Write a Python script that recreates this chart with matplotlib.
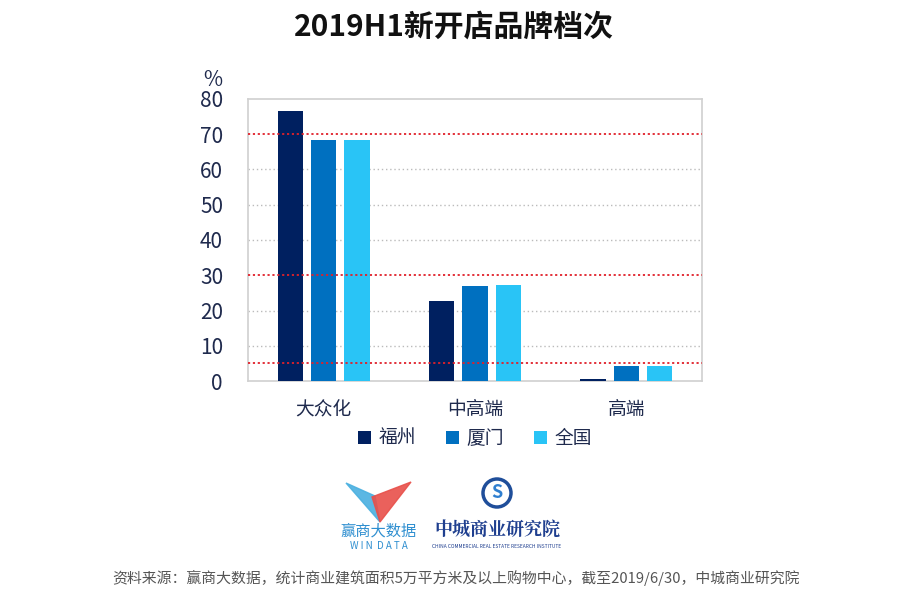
import matplotlib
matplotlib.use("Agg")
import matplotlib.pyplot as plt
import numpy as np
from matplotlib.patches import Polygon, Circle

plt.rcParams['font.family'] = ['Noto Sans CJK SC', 'DejaVu Sans']

categories = ['大众化', '中高端', '高端']
series_names = ['福州', '厦门', '全国']
fuzhou = [76.5, 22.6, 0.6]
xiamen = [68.5, 27.0, 4.3]
quanguo = [68.5, 27.3, 4.3]
yticks = [0, 10, 20, 30, 40, 50, 60, 70, 80]
red_lines = [70, 30, 5]

colors = ['#002060', '#0070C0', '#29C4F6']
text_col = '#1F2A4D'

fig = plt.figure(figsize=(9.08, 5.89), dpi=100)
ax = fig.add_axes([248/908, 1-381/589, 454/908, 282/589])

x = np.arange(len(categories))
w = 0.167
step = 0.22
for i, (vals, c, name) in enumerate(zip([fuzhou, xiamen, quanguo], colors, series_names)):
    ax.bar(x + (i-1)*step, vals, width=w, color=c, label=name, zorder=3)

ax.set_xlim(-0.5, 2.5)
ax.set_ylim(0, 80)
ax.set_yticks(yticks)
ax.set_yticklabels([str(v) for v in yticks], fontsize=15, color=text_col)
ax.set_xticks(x)
ax.set_xticklabels(categories, fontsize=13.5, color=text_col)
ax.tick_params(axis='both', length=0)
ax.tick_params(axis='y', pad=18)
ax.tick_params(axis='x', pad=13)

for v in [10, 20, 40, 50, 60]:
    ax.axhline(v, color='#BBBBBB', linestyle=(0, (1, 2)), linewidth=1, zorder=1)
for v in red_lines:
    ax.axhline(v, color='#E0202A', linestyle=(0, (1.2, 1.5)), linewidth=1.3, zorder=4)

for s in ax.spines.values():
    s.set_color('#D0D0D0')
    s.set_linewidth(1.2)

fig.text(213/908, 1-80/589, '%', fontsize=15, color=text_col, ha='center', va='center')

fig.text(454/908, 1-27/589, '2019H1新开店品牌档次', fontsize=21.5, fontweight='bold',
         color='#111111', ha='center', va='center')

leg = ax.legend(loc='upper center', bbox_to_anchor=(0.5, -0.14), ncol=3, frameon=False,
                fontsize=13.5, handlelength=0.7, handleheight=0.7, handletextpad=0.4,
                columnspacing=1.6, borderaxespad=0)
for t in leg.get_texts():
    t.set_color(text_col)

# logos (simplified)
la = fig.add_axes([0, 0, 1, 1], facecolor='none')
la.set_xlim(0, 908)
la.set_ylim(589, 0)
la.axis('off')
la.add_patch(Polygon([[346, 483], [375, 496], [380, 522]], closed=True, color='#4AB0E0', alpha=0.9))
la.add_patch(Polygon([[411, 482], [372, 497], [380, 522]], closed=True, color='#E8504A', alpha=0.9))
la.text(379, 531, '赢商大数据', fontsize=11, color='#2F8FD0', ha='center', va='center')
la.text(379, 546, 'W I N  D A T A', fontsize=7, color='#2F8FD0', ha='center', va='center')
la.add_patch(Circle((497, 493), 14, fill=False, edgecolor='#1F4E9A', linewidth=2.5))
la.text(497, 493, 'S', fontsize=13, color='#2F7FD0', ha='center', va='center', fontweight='bold')
la.text(497, 530, '中城商业研究院', fontsize=13, color='#1F3F8F', ha='center', va='center',
        family=['Noto Serif CJK SC', 'Noto Sans CJK SC'], fontweight='bold')
la.text(497, 546, 'CHINA COMMERCIAL REAL ESTATE RESEARCH INSTITUTE', fontsize=3.5,
        color='#1F3F8F', ha='center', va='center')

fig.text(456/908, 1-578/589,
         '资料来源：赢商大数据，统计商业建筑面积5万平方米及以上购物中心，截至2019/6/30，中城商业研究院',
         fontsize=10.7, color='#555555', ha='center', va='center')

fig.savefig('out.png', dpi=100)
